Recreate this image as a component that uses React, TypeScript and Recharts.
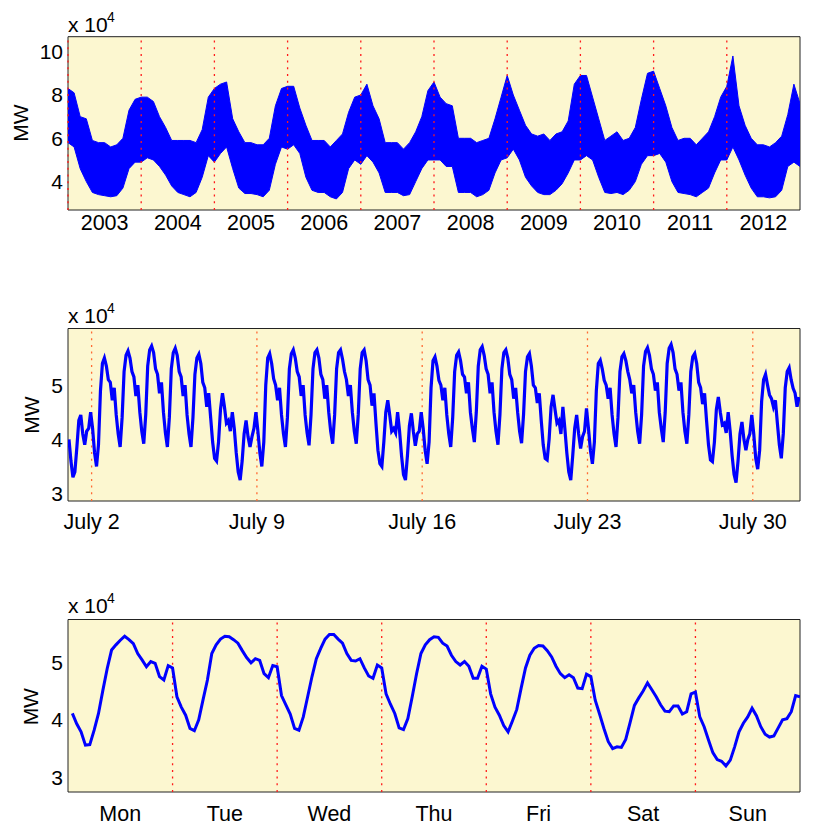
import React from 'react';
import {
  ComposedChart,
  LineChart,
  Line,
  Area,
  XAxis,
  YAxis,
  CartesianGrid,
  ReferenceLine,
  ReferenceArea,
} from 'recharts';

const FONT = '"Liberation Sans", Arial, Helvetica, sans-serif';
const BLUE = '#0000ff';
const PANEL_BG = '#fcf7d0';

// ---- top panel: ten years, monthly envelope of the hourly load (x 10^4 MW) ----
const YEAR_LABELS = ['2003', '2004', '2005', '2006', '2007', '2008', '2009', '2010', '2011', '2012'];
const YEAR_MARKS = [0, 1, 2, 3, 4, 5, 6, 7, 8, 9];

const DECADE_HIGH = [
  8.3, 8.1, 7.0, 6.9, 5.9, 5.8, 5.8, 5.6, 5.7, 6.0, 7.3, 7.8,
  7.9, 7.9, 7.7, 7.0, 6.5, 5.9, 5.9, 5.9, 5.9, 5.8, 6.4, 7.9,
  8.3, 8.5, 8.6, 6.9, 6.3, 5.8, 5.8, 5.7, 5.7, 6.0, 7.5, 8.3,
  8.4, 8.4, 7.4, 6.6, 5.9, 5.9, 5.9, 5.6, 5.9, 6.2, 7.2, 7.9,
  8.0, 8.5, 7.5, 6.9, 5.8, 5.8, 5.8, 5.5, 5.8, 6.3, 7.0, 8.2,
  8.6, 7.9, 7.6, 7.5, 6.0, 6.0, 6.0, 5.8, 5.9, 6.0, 6.9, 7.9,
  8.9, 8.0, 7.3, 6.6, 6.2, 6.1, 6.2, 5.9, 6.2, 6.3, 6.8, 8.5,
  8.9, 8.9, 7.9, 6.9, 5.9, 6.1, 6.3, 5.9, 6.0, 6.5, 7.8, 9.0,
  9.1, 8.3, 7.5, 6.5, 5.9, 6.0, 6.0, 5.7, 6.0, 6.3, 7.0, 7.9,
  8.4, 9.8, 7.5, 6.6, 6.0, 5.7, 5.7, 5.6, 5.8, 6.1, 7.1, 8.5,
  7.6,
];

const DECADE_LOW = [
  5.8, 5.6, 4.6, 4.0, 3.5, 3.4, 3.35, 3.3, 3.35, 3.7, 4.6, 4.9,
  4.9, 5.1, 5.0, 4.7, 4.3, 3.8, 3.5, 3.4, 3.3, 3.5, 4.2, 5.2,
  4.9, 5.3, 5.6, 4.6, 3.7, 3.45, 3.45, 3.4, 3.3, 3.6, 4.8, 5.6,
  5.5, 5.7, 5.3, 4.2, 3.6, 3.5, 3.5, 3.3, 3.2, 3.5, 4.6, 5.0,
  4.8, 5.2, 4.9, 4.4, 3.5, 3.5, 3.5, 3.35, 3.4, 4.0, 4.6, 5.0,
  5.0, 5.0, 4.7, 4.7, 3.5, 3.5, 3.5, 3.3, 3.4, 3.6, 4.4, 5.0,
  5.1, 5.5, 5.0, 4.2, 3.8, 3.5, 3.4, 3.4, 3.6, 3.9, 4.4, 5.0,
  5.0, 5.2, 5.0, 4.2, 3.5, 3.45, 3.5, 3.4, 3.6, 4.0, 4.8, 5.2,
  5.2, 5.3, 4.9, 4.0, 3.5, 3.45, 3.4, 3.3, 3.5, 3.7, 4.4, 5.0,
  5.0, 5.6, 5.0, 4.3, 3.7, 3.3, 3.3, 3.25, 3.3, 3.6, 4.7, 4.9,
  4.7,
];

// ---- middle panel: July, one sample every two hours ----
const JULY_LABELS = ['July 2', 'July 9', 'July 16', 'July 23', 'July 30'];
const JULY_MONDAYS = [1, 8, 15, 22, 29];
const JULY_HOURS = [1, 3, 5, 7, 9, 11, 13, 15, 17, 19, 21, 23];

const JULY_LOAD = [
  [4.0, 3.6, 3.3, 3.4, 3.85, 4.35, 4.45, 4.1, 3.9, 4.15, 4.2, 4.5],
  [4.2, 3.75, 3.5, 3.9, 4.9, 5.4, 5.5, 5.35, 5.1, 5.05, 4.72, 4.95],
  [4.45, 4.1, 3.86, 4.4, 5.25, 5.55, 5.63, 5.5, 5.25, 5.15, 4.8, 5.0],
  [4.5, 4.15, 3.92, 4.45, 5.35, 5.65, 5.72, 5.6, 5.3, 5.2, 4.85, 5.05],
  [4.5, 4.12, 3.86, 4.4, 5.3, 5.6, 5.68, 5.55, 5.25, 5.15, 4.8, 5.0],
  [4.45, 4.1, 3.86, 4.4, 5.2, 5.5, 5.57, 5.4, 5.05, 4.95, 4.6, 4.85],
  [4.4, 3.95, 3.65, 3.6, 3.95, 4.55, 4.85, 4.6, 4.3, 4.35, 4.15, 4.5],
  [4.2, 3.75, 3.4, 3.25, 3.6, 4.1, 4.35, 4.05, 3.86, 4.05, 4.2, 4.5],
  [4.15, 3.75, 3.5, 3.95, 5.0, 5.5, 5.58, 5.4, 5.12, 5.0, 4.72, 4.95],
  [4.45, 4.1, 3.86, 4.4, 5.3, 5.58, 5.65, 5.5, 5.25, 5.15, 4.8, 5.0],
  [4.45, 4.12, 3.89, 4.45, 5.3, 5.6, 5.65, 5.5, 5.2, 5.1, 4.75, 5.0],
  [4.5, 4.15, 3.92, 4.45, 5.3, 5.6, 5.65, 5.48, 5.25, 5.1, 4.8, 5.0],
  [4.5, 4.15, 3.92, 4.45, 5.3, 5.6, 5.65, 5.45, 5.1, 5.0, 4.62, 4.85],
  [4.3, 3.8, 3.55, 3.5, 3.95, 4.5, 4.72, 4.45, 4.15, 4.2, 4.12, 4.5],
  [4.15, 3.7, 3.35, 3.25, 3.7, 4.25, 4.48, 4.15, 3.88, 4.1, 4.15, 4.5],
  [4.2, 3.8, 3.55, 3.95, 4.95, 5.45, 5.52, 5.35, 5.09, 5.0, 4.72, 4.95],
  [4.45, 4.1, 3.86, 4.4, 5.25, 5.55, 5.61, 5.45, 5.2, 5.15, 4.85, 5.05],
  [4.5, 4.2, 3.95, 4.5, 5.35, 5.65, 5.71, 5.55, 5.3, 5.2, 4.85, 5.05],
  [4.5, 4.15, 3.9, 4.45, 5.3, 5.6, 5.65, 5.5, 5.2, 5.1, 4.75, 4.95],
  [4.5, 4.15, 3.93, 4.45, 5.25, 5.52, 5.58, 5.35, 5.0, 4.95, 4.67, 4.85],
  [4.35, 3.9, 3.65, 3.62, 4.0, 4.6, 4.82, 4.55, 4.3, 4.35, 4.1, 4.6],
  [4.2, 3.75, 3.4, 3.25, 3.7, 4.2, 4.45, 4.1, 3.83, 4.05, 4.15, 4.57],
  [4.2, 3.8, 3.55, 3.95, 4.9, 5.4, 5.46, 5.3, 5.09, 5.0, 4.75, 4.95],
  [4.45, 4.1, 3.86, 4.4, 5.25, 5.52, 5.58, 5.45, 5.25, 5.1, 4.85, 5.0],
  [4.5, 4.15, 3.92, 4.45, 5.35, 5.62, 5.69, 5.55, 5.3, 5.2, 4.9, 5.05],
  [4.5, 4.2, 3.95, 4.5, 5.4, 5.68, 5.75, 5.6, 5.3, 5.2, 4.9, 5.05],
  [4.5, 4.15, 3.92, 4.45, 5.25, 5.52, 5.58, 5.4, 5.05, 4.95, 4.65, 4.85],
  [4.35, 3.9, 3.62, 3.59, 3.95, 4.55, 4.78, 4.5, 4.27, 4.3, 4.12, 4.5],
  [4.15, 3.7, 3.35, 3.2, 3.6, 4.1, 4.32, 4.0, 3.8, 4.0, 4.1, 4.45],
  [4.1, 3.65, 3.45, 3.8, 4.7, 5.1, 5.2, 5.0, 4.82, 4.75, 4.6, 4.72],
  [4.3, 3.9, 3.65, 4.1, 4.95, 5.25, 5.32, 5.1, 4.94, 4.85, 4.6, 4.78],
];

// ---- bottom panel: one week, hourly (hour ending 1..24) ----
const WEEK_DAYS = ['Mon', 'Tue', 'Wed', 'Thu', 'Fri', 'Sat', 'Sun'];
const WEEK_LOAD = [
  [4.11, 3.93, 3.79, 3.56, 3.57, 3.82, 4.11, 4.51, 4.89, 5.21, 5.30, 5.38, 5.45, 5.39, 5.32, 5.15, 5.04, 4.92, 5.01, 4.98, 4.75, 4.69, 4.94, 4.90],
  [4.40, 4.22, 4.08, 3.85, 3.81, 4.00, 4.35, 4.69, 5.15, 5.30, 5.40, 5.45, 5.44, 5.39, 5.33, 5.20, 5.08, 4.99, 5.06, 5.03, 4.80, 4.73, 4.94, 4.92],
  [4.42, 4.26, 4.10, 3.85, 3.82, 4.05, 4.40, 4.75, 5.06, 5.24, 5.40, 5.48, 5.48, 5.40, 5.33, 5.15, 5.03, 5.02, 5.06, 4.90, 4.76, 4.72, 4.95, 4.90],
  [4.45, 4.27, 4.11, 3.86, 3.83, 4.02, 4.40, 4.80, 5.15, 5.30, 5.39, 5.44, 5.43, 5.33, 5.28, 5.12, 5.01, 4.95, 5.01, 4.93, 4.72, 4.72, 4.93, 4.88],
  [4.45, 4.22, 4.08, 3.90, 3.79, 3.98, 4.18, 4.55, 4.90, 5.12, 5.24, 5.29, 5.28, 5.20, 5.09, 4.93, 4.80, 4.73, 4.78, 4.73, 4.55, 4.54, 4.79, 4.75],
  [4.34, 4.10, 3.85, 3.62, 3.50, 3.53, 3.52, 3.66, 3.95, 4.25, 4.38, 4.50, 4.64, 4.52, 4.40, 4.26, 4.15, 4.14, 4.24, 4.24, 4.10, 4.14, 4.45, 4.48],
  [4.05, 3.88, 3.65, 3.43, 3.31, 3.28, 3.20, 3.30, 3.53, 3.79, 3.94, 4.05, 4.20, 4.07, 3.88, 3.75, 3.70, 3.72, 3.86, 4.00, 4.02, 4.14, 4.42, 4.40],
];
const WEEK_MARKS = [1, 2, 3, 4, 5, 6];

const decadeData = DECADE_HIGH.map((hi, i) => ({ t: i / 12, band: [DECADE_LOW[i], hi] }));
const julyData = JULY_LOAD.flatMap((day, d) => day.map((v, k) => ({ t: d + JULY_HOURS[k] / 24, v })));
const weekData = WEEK_LOAD.flatMap((day, d) => day.map((v, h) => ({ t: d + (h + 1) / 24, v })));

const xTickStyle = { fontSize: 21.5, fill: '#000', fontFamily: FONT };
const yTickStyle = { fontSize: 21, fill: '#000', fontFamily: FONT };

const W = 814;
const MARGIN = { top: 28.5, right: 22, left: 0, bottom: 0 };

function frame(xDomain: number[], yDomain: number[], yTicks: number[], marks: number[], markColor: string) {
  return [
    <CartesianGrid key="bg" fill={PANEL_BG} fillOpacity={1} horizontal={false} vertical={false} />,
    <YAxis
      key="y"
      type="number"
      domain={yDomain}
      ticks={yTicks}
      allowDataOverflow
      width={60}
      axisLine={false}
      tickLine={false}
      tickSize={0}
      tickMargin={5}
      tick={yTickStyle}
    />,
    ...marks.map((m) => (
      <ReferenceLine
        key={`mark-${m}`}
        x={m}
        stroke={markColor}
        strokeWidth={1.3}
        strokeDasharray="2 4.7"
        ifOverflow="visible"
      />
    )),
    <ReferenceArea
      key="box"
      x1={xDomain[0]}
      x2={xDomain[1]}
      y1={yDomain[0]}
      y2={yDomain[1]}
      fill="none"
      stroke="#222"
      strokeWidth={1}
      ifOverflow="visible"
    />,
  ];
}

function Scale({ y, mwX, mwY }: { y: number; mwX: number; mwY: number }) {
  return (
    <g fontFamily={FONT} fill="#000">
      <text x={60} y={y} fontSize={21}>x 10</text>
      <text x={99} y={y - 10} fontSize={14}>4</text>
      <text x={mwX} y={mwY} fontSize={21} textAnchor="middle" dominantBaseline="central" transform={`rotate(-90 ${mwX} ${mwY})`}>
        MW
      </text>
    </g>
  );
}

export default function App() {
  return (
    <div style={{ position: 'relative', width: W, height: 818, overflow: 'hidden' }}>
      <div style={{ position: 'absolute', left: 0, top: 0 }}>
        <ComposedChart width={W} height={242} data={decadeData} margin={{ ...MARGIN, top: 28.7 }}>
          {frame([0, 10], [2.69, 10.69], [4, 6, 8, 10], YEAR_MARKS, '#ff1a1a')}
          <XAxis
            type="number"
            dataKey="t"
            domain={[0, 10]}
            ticks={YEAR_MARKS.map((m) => m + 0.5)}
            tickFormatter={(v: number) => YEAR_LABELS[Math.floor(v)]}
            interval={0}
            allowDataOverflow
            height={40}
            axisLine={false}
            tickLine={false}
            tickSize={0}
            tickMargin={5}
            tick={xTickStyle}
          />
          <Area
            type="linear"
            dataKey="band"
            stroke={BLUE}
            strokeWidth={1}
            fill={BLUE}
            fillOpacity={1}
            dot={false}
            activeDot={false}
            isAnimationActive={false}
          />
        </ComposedChart>
      </div>

      <div style={{ position: 'absolute', left: 0, top: 291.8 }}>
        <LineChart width={W} height={241} data={julyData} margin={MARGIN}>
          {frame([0, 31], [2.863, 6.044], [3, 4, 5], JULY_MONDAYS, '#ff6a33')}
          <XAxis
            type="number"
            dataKey="t"
            domain={[0, 31]}
            ticks={JULY_MONDAYS}
            tickFormatter={(v: number) => JULY_LABELS[JULY_MONDAYS.indexOf(v)]}
            interval={0}
            allowDataOverflow
            height={40}
            axisLine={false}
            tickLine={false}
            tickSize={0}
            tickMargin={13}
            tick={xTickStyle}
          />
          <Line type="linear" dataKey="v" stroke={BLUE} strokeWidth={3.2} dot={false} activeDot={false} isAnimationActive={false} />
        </LineChart>
      </div>

      <div style={{ position: 'absolute', left: 0, top: 582.8 }}>
        <LineChart width={W} height={235} data={weekData} margin={MARGIN}>
          {frame([0, 7], [2.747, 5.74], [3, 4, 5], WEEK_MARKS, '#ff1a1a')}
          <XAxis
            type="number"
            dataKey="t"
            domain={[0, 7]}
            ticks={WEEK_DAYS.map((_, i) => i + 0.5)}
            tickFormatter={(v: number) => WEEK_DAYS[Math.floor(v)]}
            interval={0}
            allowDataOverflow
            height={34}
            axisLine={false}
            tickLine={false}
            tickSize={0}
            tickMargin={14}
            tick={xTickStyle}
          />
          <Line type="linear" dataKey="v" stroke={BLUE} strokeWidth={3} dot={false} activeDot={false} isAnimationActive={false} />
        </LineChart>
      </div>

      <svg width={W} height={818} style={{ position: 'absolute', left: 0, top: 0, pointerEvents: 'none' }}>
        <Scale y={23.7} mwX={12} mwY={115} />
        <Scale y={315.3} mwX={23} mwY={407} />
        <Scale y={605.3} mwX={23} mwY={698.7} />
      </svg>
    </div>
  );
}
